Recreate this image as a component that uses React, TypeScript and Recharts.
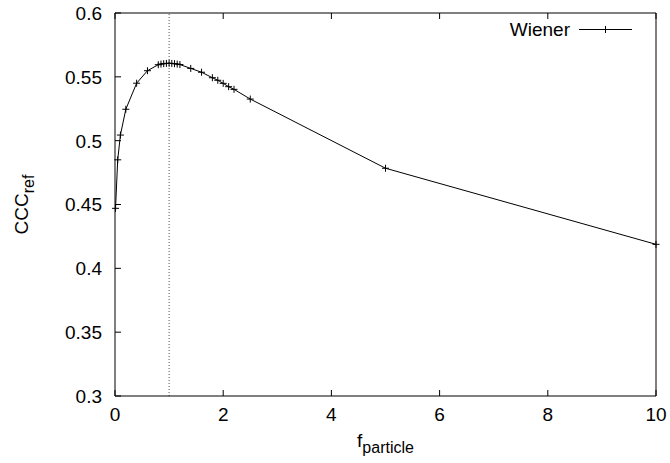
import React from "react";
import { LineChart, Line, XAxis, YAxis, ReferenceLine } from "recharts";

// f_particle values and the Wiener CCC_ref curve
const fParticle = [
  0.01, 0.05, 0.1, 0.2, 0.4, 0.6, 0.8, 0.85, 0.9, 0.95, 1.0, 1.05, 1.1, 1.15, 1.2,
  1.4, 1.6, 1.8, 1.9, 2.0, 2.1, 2.2, 2.5, 5, 10,
];
const wienerCCC = [
  0.447, 0.485, 0.5044, 0.5246, 0.545, 0.5548, 0.5595, 0.56, 0.5603, 0.5605, 0.5606,
  0.5605, 0.5603, 0.56, 0.5596, 0.5566, 0.5536, 0.5493, 0.5473, 0.5449, 0.5423,
  0.5402, 0.5326, 0.4784, 0.4188,
];
const xTicks = [0, 2, 4, 6, 8, 10];
const yTicks = [0.3, 0.35, 0.4, 0.45, 0.5, 0.55, 0.6];
const optimum = 1;

const data = fParticle.map((f, i) => ({ f, ccc: wienerCCC[i] }));

const FONT = "'Liberation Sans', Arial, Helvetica, sans-serif";
const TICK = 6;
const FS = 19;
const SUB = 16;

const fmt = (v: number) => String(+v.toFixed(2));

const BottomTick = (props: any) => {
  const { x, y, payload } = props;
  return (
    <g>
      <path d={`M${x},${y}V${y - TICK}`} stroke="#000" fill="none" />
      <text x={x} y={y + 25} textAnchor="middle" fontSize={FS} fontFamily={FONT} fill="#000">
        {fmt(payload.value)}
      </text>
    </g>
  );
};

const TopTick = (props: any) => {
  const { x, y } = props;
  return <path d={`M${x},${y}V${y + TICK}`} stroke="#000" fill="none" />;
};

const LeftTick = (props: any) => {
  const { x, y, payload } = props;
  return (
    <g>
      <path d={`M${x},${y}H${x + TICK}`} stroke="#000" fill="none" />
      <text x={x - 13} y={y} dy="0.36em" textAnchor="end" fontSize={FS} fontFamily={FONT} fill="#000">
        {fmt(payload.value)}
      </text>
    </g>
  );
};

const RightTick = (props: any) => {
  const { x, y } = props;
  return <path d={`M${x},${y}H${x - TICK}`} stroke="#000" fill="none" />;
};

const Cross = (props: any) => {
  const { cx, cy } = props;
  if (cx == null || cy == null) return <g />;
  return (
    <path
      d={`M${cx - 3.5},${cy}H${cx + 3.5}M${cx},${cy - 3.5}V${cy + 3.5}`}
      stroke="#000"
      fill="none"
    />
  );
};

const XLabel = (props: any) => {
  const { viewBox } = props;
  const cx = viewBox.x + viewBox.width / 2;
  return (
    <text x={cx} y={viewBox.y + 51} textAnchor="middle" fontFamily={FONT} fill="#000" fontSize={FS}>
      f
      <tspan fontSize={SUB} dy={6}>particle</tspan>
    </text>
  );
};

const YLabel = (props: any) => {
  const { viewBox } = props;
  const cy = viewBox.y + viewBox.height / 2;
  const x = 28;
  return (
    <text
      x={x}
      y={cy}
      transform={`rotate(-90, ${x}, ${cy})`}
      textAnchor="middle"
      fontFamily={FONT}
      fill="#000"
      fontSize={FS}
    >
      CCC
      <tspan fontSize={SUB} dy={6}>ref</tspan>
    </text>
  );
};

const KeyBox = () => (
  <svg
    width={160}
    height={30}
    style={{ position: "absolute", left: 490, top: 15, display: "block" }}
  >
    <text x={80} y={21} textAnchor="end" fontFamily={FONT} fontSize={FS} fill="#000">
      Wiener
    </text>
    <path d="M89,14.5H142M115.5,11V18" stroke="#000" fill="none" />
  </svg>
);

export default function App() {
  return (
    <div style={{ position: "absolute", left: 0, top: 0, width: 670, height: 463, background: "#fff" }}>
      <LineChart
        width={670}
        height={463}
        data={data}
        margin={{ top: 12, right: 13, bottom: 0, left: 0 }}
        style={{ fontFamily: FONT }}
      >
        <XAxis
          xAxisId="b"
          dataKey="f"
          type="number"
          domain={[0, 10]}
          ticks={xTicks}
          height={67}
          tickSize={0}
          tickMargin={0}
          axisLine={{ stroke: "#000" }}
          tick={<BottomTick />}
          interval={0}
          label={<XLabel />}
        />
        <XAxis
          xAxisId="t"
          orientation="top"
          dataKey="f"
          type="number"
          domain={[0, 10]}
          ticks={xTicks}
          height={1}
          tickSize={0}
          tickMargin={0}
          axisLine={{ stroke: "#000" }}
          tick={<TopTick />}
          interval={0}
        />
        <YAxis
          yAxisId="l"
          type="number"
          domain={[0.3, 0.6]}
          ticks={yTicks}
          width={115}
          tickSize={0}
          tickMargin={0}
          axisLine={{ stroke: "#000" }}
          tick={<LeftTick />}
          interval={0}
          label={<YLabel />}
        />
        <YAxis
          yAxisId="r"
          orientation="right"
          type="number"
          domain={[0.3, 0.6]}
          ticks={yTicks}
          width={1}
          tickSize={0}
          tickMargin={0}
          axisLine={{ stroke: "#000" }}
          tick={<RightTick />}
          interval={0}
        />
        <ReferenceLine
          xAxisId="b"
          yAxisId="l"
          x={optimum}
          stroke="#555"
          strokeDasharray="1 2"
        />
        <Line
          xAxisId="b"
          yAxisId="l"
          type="linear"
          dataKey="ccc"
          name="Wiener"
          stroke="#000"
          strokeWidth={1}
          dot={<Cross />}
          activeDot={false}
          isAnimationActive={false}
        />
      </LineChart>
      <KeyBox />
    </div>
  );
}
